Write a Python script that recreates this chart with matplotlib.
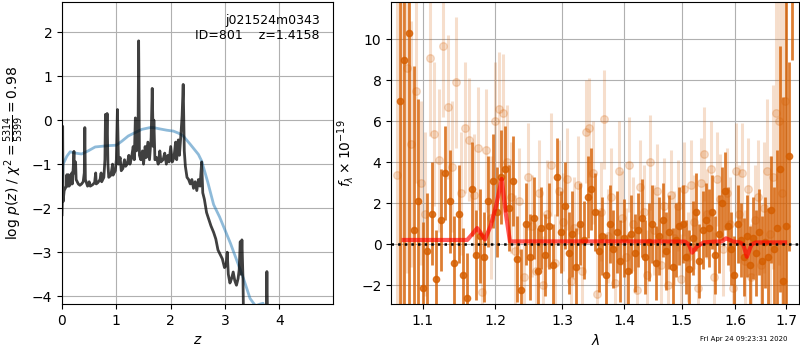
"""Redshift fit summary figure: log p(z) and the 1D grism spectrum."""

import matplotlib

matplotlib.use("Agg")
import matplotlib.pyplot as plt
from matplotlib.ticker import FixedLocator, NullLocator, FormatStrFormatter

# ---- p(z) panel -------------------------------------------------------------
PZ_Z = [0.000, 0.005, 0.012, 0.020, 0.04, 0.06, 0.08, 0.09, 0.10, 0.12, 0.13, 0.16,
        0.18, 0.19, 0.21, 0.22, 0.23, 0.25, 0.26, 0.30, 0.33, 0.36, 0.39, 0.41, 0.42,
        0.43, 0.47, 0.50, 0.52, 0.56, 0.60, 0.62, 0.63, 0.66, 0.70, 0.72, 0.73, 0.77,
        0.79, 0.80, 0.815, 0.83, 0.845, 0.86, 0.90, 0.93, 0.94, 0.98, 1.00, 1.02, 1.04,
        1.07, 1.09, 1.12, 1.15, 1.17, 1.20, 1.23, 1.25, 1.28, 1.31, 1.33, 1.35, 1.37,
        1.40, 1.41, 1.425, 1.45, 1.48, 1.50, 1.53, 1.55, 1.58, 1.61, 1.64, 1.66, 1.68,
        1.69, 1.71, 1.74, 1.77, 1.80, 1.82, 1.86, 1.89, 1.92, 1.95, 1.97, 2.00, 2.03,
        2.06, 2.09, 2.11, 2.14, 2.16, 2.19, 2.21, 2.23, 2.25, 2.27, 2.30, 2.33, 2.36,
        2.39, 2.42, 2.45, 2.48, 2.51, 2.54, 2.57, 2.59, 2.62, 2.66, 2.70, 2.74, 2.79,
        2.83, 2.87, 2.91, 2.95, 2.99, 3.02, 3.04, 3.06, 3.09, 3.12, 3.15, 3.18, 3.21,
        3.24, 3.26, 3.28, 3.29, 3.31, 3.33, 3.34, 3.40, 3.60, 3.755, 3.77, 3.785, 3.90]
PZ_LOGP = [-2.15, -1.90, -0.14, -1.85, -1.60, -1.55, -1.50, -1.24, -1.50, -1.24, -1.50,
           -1.45, -1.20, -1.45, -1.00, -0.71, -1.20, -0.95, -1.35, -1.45, -1.48, -1.45,
           -1.40, -1.20, -0.17, -1.35, -1.50, -1.40, -1.50, -1.47, -1.42, -1.20, -1.45,
           -1.42, -1.35, -1.20, -1.40, -1.30, -0.90, 0.13, -0.60, 0.15, -1.00, -1.30,
           -1.25, -1.00, -1.25, -1.15, -0.90, 0.24, -1.00, -0.85, -1.15, -1.10, -0.90,
           -1.05, -1.00, -0.80, -1.00, -0.85, -0.60, -0.90, 0.05, -0.70, -0.20, 1.80,
           -0.80, -0.90, -0.70, -1.00, -0.60, -0.85, -0.50, -0.90, -0.40, 0.72, -0.60,
           0.00, -0.90, -0.85, -1.00, -0.70, -0.95, -0.90, -0.75, -1.00, -0.80, -0.95,
           -0.60, -0.95, -0.85, -0.50, -0.90, -0.45, -0.80, -0.30, 0.10, 0.81, -0.70,
           -1.05, -1.30, -1.35, -1.45, -1.35, -1.55, -1.40, -1.60, -1.35, -1.50, -0.95,
           -1.65, -1.80, -2.10, -2.25, -2.40, -2.55, -2.70, -2.95, -3.05, -3.15, -3.35,
           -3.30, -3.00, -3.50, -3.70, -3.60, -3.45, -3.65, -3.75, -3.60, -3.40, -2.76,
           -3.50, -2.72, -3.60, -4.50, -4.80, -5.00, -4.80, -3.44, -4.80, -5.00]

PRIOR_Z = [0.00, 0.02, 0.09, 0.15, 0.25, 0.36, 0.48, 0.61, 0.85, 1.00, 1.10, 1.22, 1.35,
           1.47, 1.62, 1.68, 1.80, 1.93, 2.05, 2.15, 2.23, 2.36, 2.51, 2.57, 2.68, 2.79,
           2.90, 3.00, 3.10, 3.22, 3.34, 3.46, 3.56, 3.64, 3.70, 3.76, 3.90]
PRIOR_LOGP = [-1.40, -1.00, -0.82, -0.72, -0.75, -0.77, -0.70, -0.61, -0.58, -0.57,
              -0.48, -0.36, -0.28, -0.21, -0.17, -0.17, -0.20, -0.23, -0.25, -0.30,
              -0.36, -0.55, -0.78, -0.93, -1.40, -1.92, -2.20, -2.50, -2.80, -3.20,
              -3.60, -4.05, -4.22, -4.18, -4.16, -4.40, -4.80]

FIELD_ID = "j021524m0343"
OBJ_ID = 801
Z_BEST = 1.4158

# ---- spectrum panel ---------------------------------------------------------
WAVE_A = [1.070, 1.076, 1.082, 1.088, 1.094, 1.100, 1.106, 1.112, 1.118, 1.124, 1.130,
          1.136, 1.142, 1.148, 1.154, 1.160, 1.166, 1.172, 1.178, 1.184, 1.190, 1.196,
          1.202, 1.208, 1.214, 1.220, 1.226, 1.232, 1.238, 1.244, 1.250, 1.256, 1.262,
          1.268, 1.274, 1.280, 1.286, 1.292, 1.298, 1.304, 1.310, 1.316, 1.322, 1.328,
          1.334, 1.340, 1.346, 1.352, 1.358, 1.364, 1.370, 1.376, 1.382, 1.388, 1.394,
          1.400, 1.406, 1.412, 1.418, 1.424, 1.430, 1.436, 1.442, 1.448, 1.454, 1.460,
          1.466, 1.472, 1.478, 1.484, 1.490, 1.496, 1.502, 1.508, 1.514, 1.520, 1.526,
          1.532, 1.538, 1.544, 1.550, 1.556, 1.562, 1.568, 1.574, 1.580, 1.586, 1.592,
          1.598, 1.604, 1.610, 1.616, 1.622, 1.628, 1.634, 1.640, 1.646, 1.652, 1.658,
          1.664, 1.670, 1.676, 1.682, 1.688, 1.694, 1.700, 1.706, 1.712]
FLUX_A = [7.0, 9.0, 10.3, 0.7, 2.1, -2.1, -0.3, 1.5, -1.7, 1.2, 3.5,
          2.1, -0.9, 1.5, -1.5, -2.6, 2.7, -0.5, 0.4, -0.6, 2.1, 3.1,
          1.6, 3.3, 3.7, 1.8, 3.1, -0.7, -2.2, 1.0, -0.6, 1.3, -1.3,
          0.8, -0.5, 0.9, -1.0, 3.3, 0.6, 1.9, -0.4, 0.5, -1.1, 1.0,
          0.2, 2.3, 2.7, 1.6, -0.3, 0.4, -1.5, 1.0, -0.2, 0.6, -0.8,
          0.3, -1.3, 0.5, -0.4, 0.7, 1.3, -0.6, 0.1, 1.0, -0.9, 0.4,
          1.2, -0.3, 0.6, -1.1, 0.2, 0.9, 1.0, -0.6, -1.2, 0.3, 1.6,
          -0.8, 0.7, 1.2, 0.8, 1.6, -0.5, 0.5, 2.0, 2.6, 0.9, -0.2,
          -1.5, 1.0, 0.2, -0.6, 0.4, -1.0, 0.3, -0.4, 0.6, -0.8, 0.1,
          -0.6, 1.7, -0.2, 0.8, 3.7, -1.8, 0.9, 4.3, 20.0]
ERR_A = [15.0, 12.0, 14.0, 8.0, 5.0, 3.2, 2.8, 2.5, 2.4, 2.5, 2.3,
         2.5, 2.3, 2.4, 2.3, 2.2, 2.3, 2.2, 2.3, 2.2, 2.2, 2.3,
         2.2, 2.3, 2.1, 2.1, 2.2, 2.1, 2.0, 2.0, 2.1, 2.0, 2.1,
         2.0, 2.0, 2.1, 2.0, 1.9, 2.0, 2.1, 2.0, 2.1, 1.9, 2.0,
         1.9, 2.0, 2.0, 1.9, 2.0, 1.9, 2.0, 1.9, 1.9, 2.0, 2.0,
         1.9, 1.8, 1.9, 1.9, 1.8, 1.9, 1.8, 1.9, 1.9, 1.8, 1.9,
         1.8, 1.9, 1.8, 1.9, 1.8, 1.9, 1.9, 1.8, 1.9, 1.8, 1.9,
         1.8, 1.9, 1.8, 1.9, 1.8, 1.9, 1.9, 1.8, 1.9, 1.9, 1.8,
         1.9, 1.9, 1.8, 1.9, 2.0, 1.9, 2.0, 2.1, 2.1, 2.2, 2.2,
         2.4, 2.6, 3.0, 3.8, 6.0, 9.0, 12.0, 4.6, 11.0]

WAVE_B = [1.067, 1.073, 1.079, 1.085, 1.091, 1.097, 1.103, 1.109, 1.115, 1.121, 1.127,
          1.133, 1.139, 1.145, 1.151, 1.157, 1.163, 1.169, 1.175, 1.181, 1.187, 1.193,
          1.199, 1.205, 1.211, 1.217, 1.223, 1.229, 1.235, 1.241, 1.247, 1.253, 1.259,
          1.265, 1.271, 1.277, 1.283, 1.289, 1.295, 1.301, 1.307, 1.313, 1.319, 1.325,
          1.331, 1.337, 1.343, 1.349, 1.355, 1.361, 1.367, 1.373, 1.379, 1.385, 1.391,
          1.397, 1.403, 1.409, 1.415, 1.421, 1.427, 1.433, 1.439, 1.445, 1.451, 1.457,
          1.463, 1.469, 1.475, 1.481, 1.487, 1.493, 1.499, 1.505, 1.511, 1.517, 1.523,
          1.529, 1.535, 1.541, 1.547, 1.553, 1.559, 1.565, 1.571, 1.577, 1.583, 1.589,
          1.595, 1.601, 1.607, 1.613, 1.619, 1.625, 1.631, 1.637, 1.643, 1.649, 1.655,
          1.661, 1.667, 1.673, 1.679, 1.685, 1.691, 1.697]
FLUX_B = [3.4, 12.0, 8.6, 4.9, 7.5, 3.0, 1.5, 9.1, 5.4, 4.1, 9.7,
          6.7, 3.8, 7.9, 2.5, 5.7, 5.1, 2.4, 4.7, -2.3, 4.6, 1.3,
          6.0, 6.6, 6.4, 4.0, 2.3, -0.3, 2.1, -1.6, 3.3, 0.9, -1.3,
          2.5, -2.0, 1.5, 3.9, -0.9, 2.6, 1.1, 3.2, -1.8, 0.8, 2.9,
          -1.3, 5.5, 5.7, 3.5, -2.4, 1.6, 6.1, 0.4, 2.3, -1.9, 3.6,
          1.3, -0.6, 3.9, 1.0, -2.2, 2.8, 1.6, -1.5, 4.0, 0.7, 2.6,
          -1.0, 1.9, -2.0, 2.4, 0.3, 1.9, -1.7, 2.7, -0.6, 2.9, 1.1,
          -2.1, 3.0, 4.4, 1.5, 3.7, -1.6, 3.2, 2.2, -0.2, 2.5, 1.0,
          -2.1, 3.6, 1.5, 3.5, -0.8, 2.7, -1.6, 1.2, 2.3, -1.0, 1.8,
          3.6, 0.5, 3.3, 6.4, 6.0, 2.5, 7.0]
ERR_B = [15.0, 15.0, 10.0, 6.0, 4.5, 4.0, 4.0, 3.8, 3.5, 3.5, 3.5,
         3.5, 3.2, 3.2, 3.0, 3.2, 3.0, 3.0, 3.0, 3.0, 3.0, 3.0,
         2.9, 2.8, 2.9, 2.8, 2.7, 2.7, 2.6, 2.5, 2.6, 2.5, 2.5,
         2.6, 2.4, 2.6, 2.5, 2.4, 2.5, 2.4, 2.5, 2.4, 2.5, 2.4,
         2.4, 2.5, 2.4, 2.5, 2.4, 2.4, 2.4, 2.3, 2.4, 2.3, 2.4,
         2.3, 2.4, 2.3, 2.3, 2.2, 2.3, 2.3, 2.2, 2.3, 2.2, 2.3,
         2.2, 2.3, 2.2, 2.2, 2.3, 2.2, 2.2, 2.3, 2.2, 2.2, 2.3,
         2.2, 2.2, 2.3, 2.2, 2.3, 2.2, 2.3, 2.2, 2.3, 2.2, 2.3,
         2.3, 2.3, 2.4, 2.4, 2.5, 2.5, 2.6, 2.7, 2.8, 3.0, 3.2,
         3.5, 3.8, 4.5, 5.5, 7.0, 10.0, 14.0]

MODEL_WAVE = [1.075, 1.160, 1.167, 1.174, 1.180, 1.185, 1.193, 1.201, 1.209, 1.215,
              1.221, 1.300, 1.400, 1.506, 1.513, 1.519, 1.528, 1.540, 1.560, 1.574,
              1.582, 1.595, 1.608, 1.615, 1.622, 1.631, 1.640, 1.698]
MODEL_FLUX = [0.22, 0.22, 0.5, 0.8, 0.5, 0.25, 0.9, 1.9, 3.2, 1.5,
              0.15, 0.15, 0.15, 0.14, 0.0, -0.4, -0.1, 0.1, 0.14, 0.15,
              0.3, 0.15, 0.1, 0.0, -0.6, 0.0, 0.1, 0.1]

WAVE_TICKS = [1.1, 1.2, 1.3, 1.4, 1.5, 1.6, 1.7]
GRISM_COLOR = (0.835, 0.369, 0.0)


def plot_pz(ax):
    ax.plot(PRIOR_Z, PRIOR_LOGP, color="tab:blue", alpha=0.5, linewidth=2)
    ax.plot(PZ_Z, PZ_LOGP, color="k", alpha=0.75, linewidth=2)
    ax.set_xlim(0, 4.99)
    ax.set_ylim(-4.18, 2.68)
    ax.set_xticks([0, 1, 2, 3, 4])
    ax.set_yticks([-4, -3, -2, -1, 0, 1, 2])
    ax.set_xlabel(r"$z$")
    ax.set_ylabel(r"log $p(z)$ / $\chi^2=\frac{5314}{5399}=0.98$")
    ax.grid(True)
    ax.text(0.95, 0.96, f"{FIELD_ID}\nID={OBJ_ID}    z={Z_BEST:.4f}",
            ha="right", va="top", transform=ax.transAxes, fontsize=9)


def plot_spectrum(ax):
    ax.errorbar(WAVE_B, FLUX_B, yerr=ERR_B, color=GRISM_COLOR, alpha=0.2,
                marker="o", markersize=5.5, linestyle="none", elinewidth=2.2)
    ax.errorbar(WAVE_A, FLUX_A, yerr=ERR_A, color=GRISM_COLOR, alpha=0.8,
                marker="o", markersize=4.5, linestyle="none", elinewidth=2.0)
    ax.plot(MODEL_WAVE, MODEL_FLUX, color="red", alpha=0.65, linewidth=3, zorder=10)
    ax.axhline(0, color="k", linestyle=":", linewidth=1.8, zorder=11)

    ax.set_xscale("log")
    ax.set_xlim(1.059, 1.727)
    ax.set_ylim(-2.91, 11.82)
    ax.xaxis.set_major_locator(FixedLocator(WAVE_TICKS))
    ax.xaxis.set_major_formatter(FormatStrFormatter("%.1f"))
    ax.xaxis.set_minor_locator(NullLocator())
    ax.set_yticks([-2, 0, 2, 4, 6, 8, 10])
    ax.set_xlabel(r"$\lambda$")
    ax.set_ylabel(r"$f_\lambda \times 10^{-19}$")
    ax.grid(True)


def main():
    plt.rcParams["font.family"] = ["DejaVu Sans"]
    plt.rcParams["grid.color"] = "#b0b0b0"

    fig = plt.figure(figsize=(8, 3.5), dpi=100)
    ax_pz = fig.add_axes([0.0775, 0.131, 0.339, 0.863])
    ax_sp = fig.add_axes([0.489, 0.131, 0.510, 0.863])

    plot_pz(ax_pz)
    plot_spectrum(ax_sp)

    fig.text(0.985, 0.022, "Fri Apr 24 09:23:31 2020", ha="right", va="bottom", fontsize=5)
    fig.savefig("out.png", dpi=100, facecolor="white")
    plt.close(fig)


if __name__ == "__main__":
    main()
